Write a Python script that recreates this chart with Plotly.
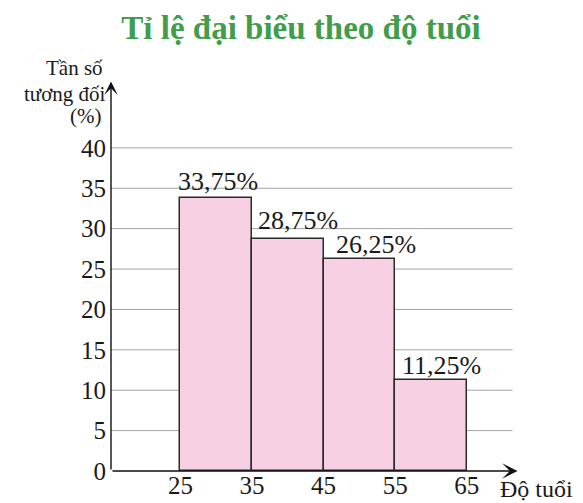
import plotly.graph_objects as go

# Data
bin_edges = [25, 35, 45, 55, 65]
bin_centers = [30, 40, 50, 60]
percentages = [33.75, 28.75, 26.25, 11.25]
bar_labels = ["33,75%", "28,75%", "26,25%", "11,25%"]
y_ticks = [0, 5, 10, 15, 20, 25, 30, 35, 40]
x_ticks = [25, 35, 45, 55, 65]

X_MIN, X_MAX = 15.3, 72.3
Y_MIN, Y_MAX = 0, 48.4
X_ARROW, Y_ARROW = 72.1, 48.2
GRID_END = 71.4

SERIF = "Liberation Serif"
INK = "#1a1a1a"

# the page body adds an 8px offset, so the figure is laid out 8px smaller
OFF = 8
W, H = 583 - OFF, 503 - OFF
L, PW, T, PH = 111 - OFF, 408, 80 - OFF, 391

fig = go.Figure()
fig.add_trace(go.Bar(
    x=bin_centers, y=percentages, width=[10] * len(bin_centers),
    marker=dict(color="#f8d0e3", line=dict(color="#2b2b2b", width=1.5)),
    hoverinfo="skip", showlegend=False,
))

shapes = []
for yv in y_ticks[1:]:
    shapes.append(dict(type="line", xref="x", yref="y", x0=X_MIN, x1=GRID_END, y0=yv, y1=yv,
                       line=dict(color="#a3a3a3", width=1), layer="below"))

annotations = []
# axis arrows
annotations.append(dict(x=X_ARROW, y=0, ax=X_MIN, ay=0, xref="x", yref="y", axref="x", ayref="y",
                        showarrow=True, arrowhead=3, arrowsize=1.6, arrowwidth=1.6, arrowcolor="#111", text=""))
annotations.append(dict(x=X_MIN, y=Y_ARROW, ax=X_MIN, ay=0, xref="x", yref="y", axref="x", ayref="y",
                        showarrow=True, arrowhead=3, arrowsize=1.6, arrowwidth=1.4, arrowcolor="#111", text=""))

xshifts = [-4, 4, 10, 5]
yshifts = [0, 2, -2, -2]
for left, val, lab, sx, sy in zip(bin_edges[:-1], percentages, bar_labels, xshifts, yshifts):
    annotations.append(dict(x=left, y=val, xref="x", yref="y", text=lab, showarrow=False,
                            xanchor="left", yanchor="bottom", xshift=sx, yshift=sy,
                            font=dict(family=SERIF, size=26, color=INK)))

# y-axis title, three right-aligned lines (reference pixel centres / right edges)
ylab_lines = ["Tần số", "tương đối", "(%)"]
ylab_cy = [68, 94, 116]
ylab_rx = [105, 108, 103]
for t, cy, rx in zip(ylab_lines, ylab_cy, ylab_rx):
    annotations.append(dict(x=(rx - 111) / PW, y=(471 - cy) / PH, xref="paper", yref="paper",
                            text=t, showarrow=False, xanchor="right", yanchor="middle",
                            font=dict(family=SERIF, size=21, color=INK)))

annotations.append(dict(x=(498 - 111) / PW, y=(471 - 489) / PH, xref="paper", yref="paper",
                        text="Độ tuổi", showarrow=False, xanchor="left", yanchor="middle",
                        font=dict(family=SERIF, size=24, color=INK)))

fig.update_layout(
    width=W, height=H,
    margin=dict(l=L, r=W - L - PW, t=T, b=H - T - PH, autoexpand=False),
    paper_bgcolor="white", plot_bgcolor="white",
    bargap=0,
    title=dict(text="<b>Tỉ lệ đại biểu theo độ tuổi</b>", x=(301 - OFF) / W, xanchor="center",
               xref="container", yref="container", y=1 - (27 - OFF) / H, yanchor="middle",
               automargin=False,
               font=dict(family=SERIF, size=33, color="#3f9d4b")),
    xaxis=dict(range=[X_MIN, X_MAX], tickvals=x_ticks, ticktext=[str(v) for v in x_ticks],
               showgrid=False, zeroline=False, showline=False, automargin=False,
               ticks="", ticklabelstandoff=-3,
               tickfont=dict(family=SERIF, size=25, color=INK)),
    yaxis=dict(range=[Y_MIN, Y_MAX], tickvals=y_ticks, ticktext=[str(v) for v in y_ticks],
               showgrid=False, zeroline=False, showline=False, automargin=False,
               ticks="", ticklabelstandoff=4,
               tickfont=dict(family=SERIF, size=25, color=INK)),
    shapes=shapes, annotations=annotations,
)

fig.write_html("out.html")
